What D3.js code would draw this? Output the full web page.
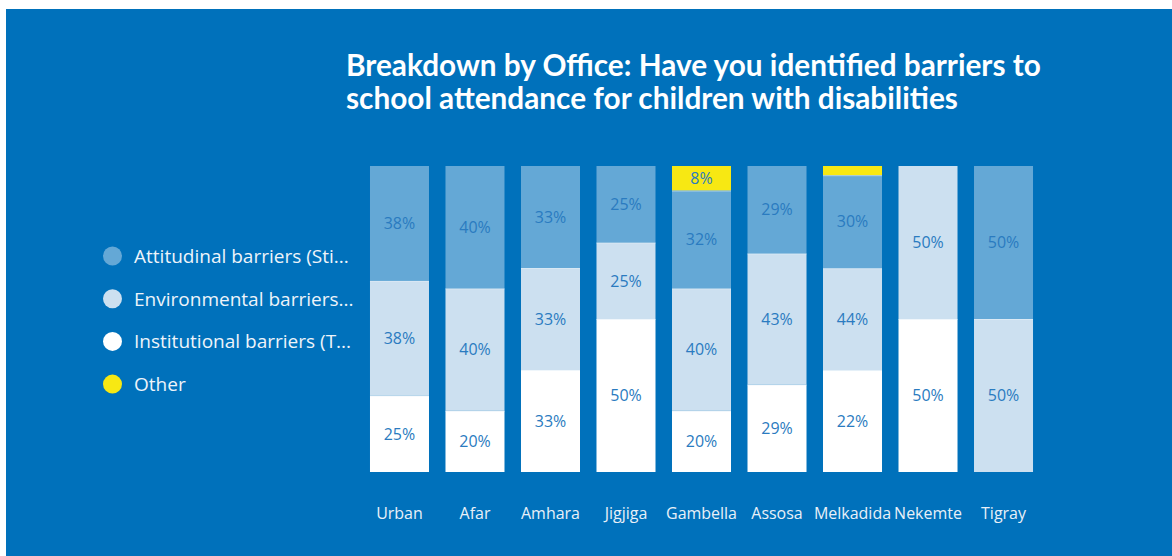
<!DOCTYPE html>
<html>
<head>
<meta charset="utf-8">
<script src="https://cdn.jsdelivr.net/npm/d3@7"></script>
<style>
  html, body { margin: 0; padding: 0; background: #ffffff; }
  svg { display: block; }
</style>
</head>
<body>
<svg id="chart" width="1172" height="556"></svg>
<script>
// ---- data ----
const categories = ["Urban", "Afar", "Amhara", "Jigjiga", "Gambella", "Assosa", "Melkadida", "Nekemte", "Tigray"];
const seriesNames = ["Institutional barriers (T...", "Environmental barriers...", "Attitudinal barriers (Sti...", "Other"];
// segment heights as drawn (percent of bar)
const institutional = [25, 20, 33.33, 50, 20, 28.57, 33.3, 50, 0];
const environmental = [37.5, 40, 33.33, 25, 40, 42.86, 33.3, 50, 50];
const attitudinal   = [37.5, 40, 33.34, 25, 32, 28.57, 30.4, 0, 50];
const other         = [0, 0, 0, 0, 8, 0, 3.0, 0, 0];
// data labels as printed on the chart
const institutionalLabels = ["25%", "20%", "33%", "50%", "20%", "29%", "22%", "50%", ""];
const environmentalLabels = ["38%", "40%", "33%", "25%", "40%", "43%", "44%", "50%", "50%"];
const attitudinalLabels   = ["38%", "40%", "33%", "25%", "32%", "29%", "30%", "", "50%"];
const otherLabels         = ["", "", "", "", "8%", "", "", "", ""];
const legendOrder = ["Attitudinal barriers (Sti...", "Environmental barriers...", "Institutional barriers (T...", "Other"];
const titleLines = ["Breakdown by Office: Have you identified barriers to", "school attendance for children with disabilities"];

const colors = {
  "Institutional barriers (T...": "#ffffff",
  "Environmental barriers...": "#cce0f0",
  "Attitudinal barriers (Sti...": "#64a8d6",
  "Other": "#f7e813"
};
const labelSets = {
  "Institutional barriers (T...": institutionalLabels,
  "Environmental barriers...": environmentalLabels,
  "Attitudinal barriers (Sti...": attitudinalLabels,
  "Other": otherLabels
};
const FONT = "'Open Sans', Lato, sans-serif";

const svg = d3.select("#chart");
svg.append("rect").attr("x", 6).attr("y", 9).attr("width", 1166).attr("height", 547).attr("fill", "#0071bb");

function fitSize(sel, base, targetW) {
  const w = sel.node().getComputedTextLength();
  return base * targetW / w;
}

// title
const title = svg.append("g");
titleLines.forEach((t, i) => {
  title.append("text")
    .attr("x", 346).attr("y", 76 + i * 33)
    .attr("fill", "#ffffff")
    .attr("font-family", "Lato, 'Open Sans', sans-serif")
    .attr("font-weight", 700)
    .attr("font-size", 26)
    .text(t);
});
{
  const fs = fitSize(title.select("text"), 26, 695);
  title.selectAll("text").attr("font-size", fs);
}

// scales
const x = d3.scaleBand().domain(categories).range([361.75, 1041.25]).paddingInner(0.2185).paddingOuter(0.109);
const y = d3.scaleLinear().domain([0, 100]).range([472, 166]);

const rows = categories.map((c, i) => ({
  cat: c, idx: i,
  "Institutional barriers (T...": institutional[i],
  "Environmental barriers...": environmental[i],
  "Attitudinal barriers (Sti...": attitudinal[i],
  "Other": other[i]
}));
const stack = d3.stack().keys(seriesNames)(rows);

const layers = svg.append("g").selectAll("g").data(stack).join("g").attr("fill", d => colors[d.key]);
layers.selectAll("rect").data(d => d).join("rect")
  .attr("x", d => x(d.data.cat))
  .attr("width", x.bandwidth())
  .attr("y", d => y(d[1]))
  .attr("height", d => Math.max(0, y(d[0]) - y(d[1])));

layers.selectAll("line").data(d => d.filter(s => s[1] - s[0] > 0 && s[0] > 0)).join("line")
  .attr("x1", d => x(d.data.cat)).attr("x2", d => x(d.data.cat) + x.bandwidth())
  .attr("y1", d => y(d[0]) + 0.5).attr("y2", d => y(d[0]) + 0.5)
  .attr("stroke", "#e6f0f8").attr("stroke-width", 1).attr("stroke-opacity", 0.6);

// value labels
const labels = svg.append("g");
stack.forEach(layer => {
  const texts = labelSets[layer.key];
  layer.forEach(s => {
    const t = texts[s.data.idx];
    if (!t) return;
    labels.append("text")
      .attr("x", x(s.data.cat) + x.bandwidth() / 2)
      .attr("y", (y(s[0]) + y(s[1])) / 2)
      .attr("dy", "0.36em")
      .attr("text-anchor", "middle")
      .attr("fill", "#2a7bc0")
      .attr("font-family", FONT)
      .attr("font-size", 15)
      .text(t);
  });
});
{
  const probe = labels.select("text");
  const fs = fitSize(probe, 15, 31.5 * probe.text().length / 3);
  labels.selectAll("text").attr("font-size", Math.min(17, fs));
}

// x axis labels
const xAxis = d3.axisBottom(x).tickSize(0).tickPadding(0);
const ax = svg.append("g").attr("transform", "translate(0,508)").call(xAxis);
ax.select(".domain").remove();
ax.selectAll("text")
  .attr("fill", "#e8f0f8")
  .attr("font-family", FONT)
  .attr("font-size", 15);
{
  const g = ax.selectAll("text").filter(d => d === "Gambella");
  const fs = fitSize(g, 15, 71);
  ax.selectAll("text").attr("font-size", fs);
}

// legend
const lg = svg.append("g");
legendOrder.forEach((k, i) => {
  const cy = 256 + i * 42.7;
  lg.append("circle").attr("cx", 112.5).attr("cy", cy).attr("r", 9.5).attr("fill", colors[k]);
  lg.append("text").attr("x", 134).attr("y", cy).attr("dy", "0.36em")
    .attr("fill", "#eef4fa")
    .attr("font-family", FONT)
    .attr("font-size", 18)
    .text(k);
});
{
  const fs = fitSize(lg.select("text"), 18, 215);
  lg.selectAll("text").attr("font-size", fs);
}
</script>
</body>
</html>
